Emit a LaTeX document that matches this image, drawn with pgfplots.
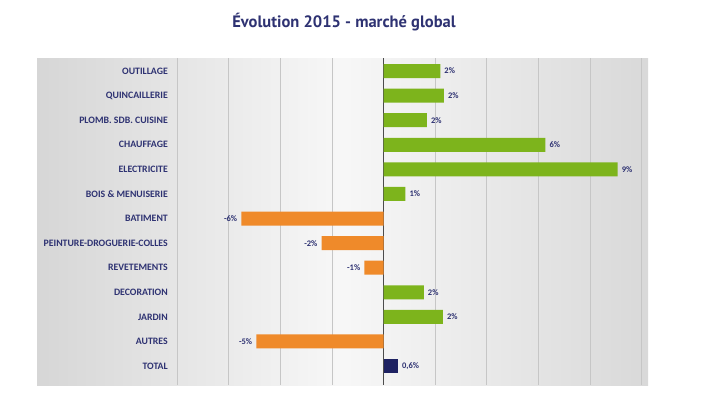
\documentclass[border=0pt]{standalone}
\usepackage{fontspec}
\setmainfont{Carlito}
\newfontfamily\titlefont{PT Sans}
\usepackage{pgfplots}
\pgfplotsset{compat=1.18}
\definecolor{vgreen}{HTML}{7DB41C}
\definecolor{vorange}{HTML}{EF8A2A}
\definecolor{vnavy}{HTML}{1E2262}
\definecolor{ltext}{HTML}{2E3272}
\begin{document}
\begin{tikzpicture}[x=1pt,y=1pt]
\useasboundingbox (0,0) rectangle (714,397);
\node[font=\titlefont\bfseries\fontsize{16.5}{18}\selectfont, text=ltext] at (344,375) {Évolution 2015 - marché global};
\begin{axis}[
  at={(37pt,12pt)}, anchor=south west,
  width=611pt, height=327pt, scale only axis,
  xmin=-13.43, xmax=10.25, ymin=-0.53, ymax=12.77, y dir=reverse,
  xtick={-8,-6,...,10}, xticklabels={},
  xmajorgrids, grid style={draw=gray!45, line width=0.8pt},
  extra x ticks={0}, extra x tick labels={},
  extra x tick style={grid style={draw=black!70, line width=1.1pt}},
  major tick length=0pt,
  ytick={0,...,12},
  yticklabels={OUTILLAGE,QUINCAILLERIE,PLOMB. SDB. CUISINE,CHAUFFAGE,ELECTRICITE,BOIS \& MENUISERIE,BATIMENT,PEINTURE-DROGUERIE-COLLES,REVETEMENTS,DECORATION,JARDIN,AUTRES,TOTAL},
  yticklabel style={anchor=east, inner sep=0pt, xshift=131pt, font=\bfseries\fontsize{9.8}{11}\selectfont, text=ltext},
  axis line style={draw=none},
  axis background/.style={shade, left color=gray!32, right color=gray!30, middle color=gray!6},
  xbar, bar width=14pt, bar shift=0pt,
  nodes near coords={\pgfplotspointmeta\%},
  point meta=explicit symbolic,
  nodes near coords style={font=\bfseries\fontsize{8.5}{10}\selectfont, text=ltext, inner sep=4pt},
]
\addplot[fill=vgreen, draw=none, nodes near coords style={anchor=west}] table[x=x, y=y, meta=l] {
x y l
2.2 0 2
2.34 1 2
1.68 2 2
6.27 3 6
9.07 4 9
0.85 5 1
1.56 9 2
2.3 10 2
};
\addplot[fill=vorange, draw=none, nodes near coords style={anchor=east}] table[x=x, y=y, meta=l] {
x y l
-5.51 6 -6
-2.4 7 -2
-0.74 8 -1
-4.93 11 -5
};
\addplot[fill=vnavy, draw=none, nodes near coords style={anchor=west}] table[x=x, y=y, meta=l] {
x y l
0.56 12 0,6
};
\end{axis}
\end{tikzpicture}
\end{document}
